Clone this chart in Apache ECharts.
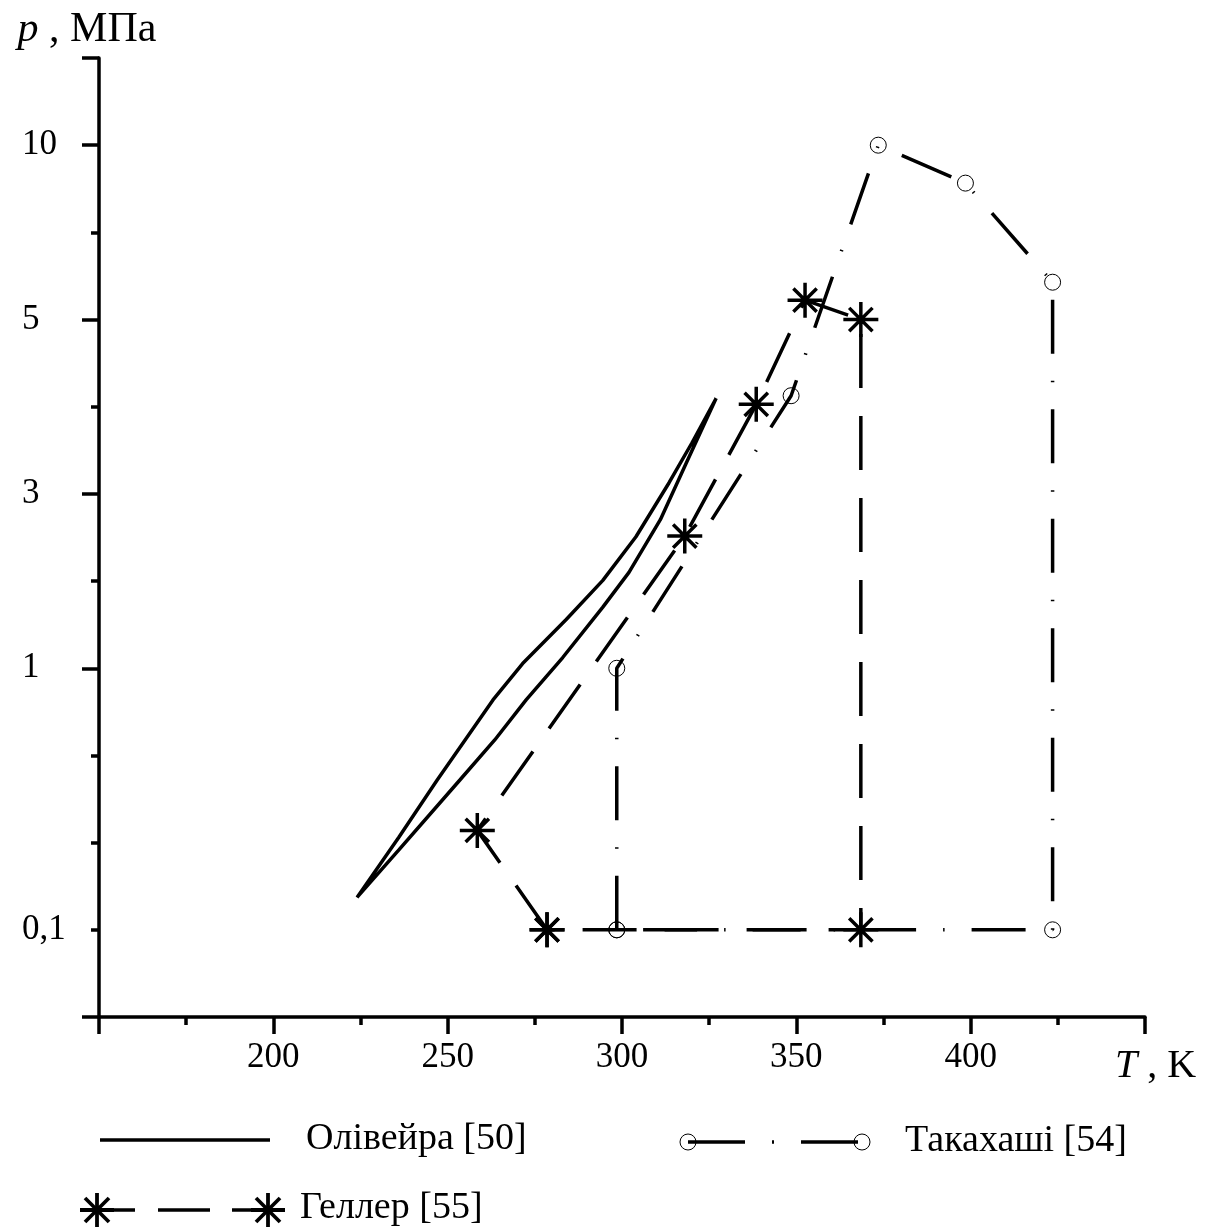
<!DOCTYPE html>
<html>
<head>
<meta charset="utf-8">
<script src="https://cdn.jsdelivr.net/npm/echarts@6/dist/echarts.min.js"></script>
<style>
  html, body { margin: 0; padding: 0; background: #fff; }
  #chart { width: 1216px; height: 1229px; }
</style>
</head>
<body>
<div id="chart"></div>
<script>
// Олівейра [50] - closed loop (upper branch up, lower branch down)
var olivTemp = [224, 236, 247, 256, 263, 271.5, 284, 294.5, 304, 313.5, 320, 327,
                326.5, 318.5, 311, 302, 294.5, 283, 272.5, 263.5, 253.5, 236, 224];
var olivPress = [0.133, 0.226, 0.374, 0.556, 0.757, 1.03, 1.36, 1.74, 2.29, 3.10, 3.48, 3.97,
                 3.97, 3.29, 2.55, 1.83, 1.47, 1.07, 0.757, 0.532, 0.374, 0.202, 0.133];
// Такахаші [54]
var takaTemp = [298.5, 298.5, 348.5, 373.5, 398.5, 423.5, 423.5, 298.5];
var takaPress = [0.1, 1, 4, 10, 8.6, 5.8, 0.1, 0.1];
// Геллер [55]
var gellTemp = [278.5, 258.5, 318, 338.5, 352.5, 368.5, 368.5, 278.5];
var gellPress = [0.1, 0.24, 2.3, 3.9, 5.4, 5, 0.1, 0.1];

// pressure axis: tick labels and their place on the (uneven) scale
var pTicks = [0.1, 1, 3, 5, 10];
var pTickLabels = ['0,1', '1', '3', '5', '10'];
var pTickPos = [1, 4, 6, 8, 10];
var xLabels = [200, 250, 300, 350, 400];

var FONT = 'Liberation Serif';
var LW = 3.5;

// map a pressure onto the axis position (log-interpolated between labelled ticks)
function pToU(p) {
    var i = 0;
    while (i < pTicks.length - 2 && p > pTicks[i + 1]) i++;
    var a = Math.log(pTicks[i]), b = Math.log(pTicks[i + 1]);
    return pTickPos[i] + (Math.log(p) - a) / (b - a) * (pTickPos[i + 1] - pTickPos[i]);
}
function pairs(t, p) {
    return t.map(function (v, i) { return [v, pToU(p[i])]; });
}

var starPath = 'path://M16.2,0H19.8V36H16.2Z M0,16.2H36V19.8H0Z' +
    ' M7.27,4.73L31.27,28.73L28.73,31.27L4.73,7.27Z' +
    ' M28.73,4.73L31.27,7.27L7.27,31.27L4.73,28.73Z';

// legend star drawn from plain lines
function legendStar(cx, cy) {
    var st = { stroke: '#000', lineWidth: 3.8 };
    return {
        type: 'group', children: [
            { type: 'line', shape: { x1: cx, y1: cy - 17, x2: cx, y2: cy + 17 }, style: st },
            { type: 'line', shape: { x1: cx - 17, y1: cy, x2: cx + 17, y2: cy }, style: st },
            { type: 'line', shape: { x1: cx - 12, y1: cy - 12, x2: cx + 12, y2: cy + 12 }, style: st },
            { type: 'line', shape: { x1: cx + 12, y1: cy - 12, x2: cx - 12, y2: cy + 12 }, style: st }
        ]
    };
}

var chart = echarts.init(document.getElementById('chart'));
var option = {
    animation: false,
    backgroundColor: '#fff',
    grid: { left: 99, right: 71, top: 58, bottom: 212, containLabel: false },
    xAxis: {
        type: 'value', min: 150, max: 450, interval: 50,
        name: '{i|T} , K',
        nameLocation: 'end', nameGap: -30,
        nameTextStyle: {
            fontFamily: FONT, fontSize: 40, color: '#000',
            verticalAlign: 'top', padding: [29, 0, 0, 0],
            rich: { i: { fontFamily: FONT, fontSize: 40, fontStyle: 'italic', color: '#000' } }
        },
        axisLine: { show: true, lineStyle: { color: '#000', width: LW } },
        axisTick: { show: true, length: 17, lineStyle: { color: '#000', width: LW } },
        minorTick: { show: true, splitNumber: 2, length: 8, lineStyle: { color: '#000', width: LW } },
        axisLabel: {
            customValues: xLabels,
            fontFamily: FONT, fontSize: 35, color: '#000', margin: 23
        },
        splitLine: { show: false }
    },
    yAxis: [{
        type: 'value', min: 0, max: 11, interval: 1, position: 'left',
        name: '{i|p} , МПа',
        nameLocation: 'end', nameGap: 7,
        nameTextStyle: {
            fontFamily: FONT, fontSize: 42, color: '#000', padding: [0, 24, 0, 0],
            rich: { i: { fontFamily: FONT, fontSize: 42, fontStyle: 'italic', color: '#000' } }
        },
        axisLine: { show: true, lineStyle: { color: '#000', width: LW } },
        axisTick: { show: true, customValues: [0, 4, 6, 8, 10, 11], length: 17,
                    lineStyle: { color: '#000', width: LW } },
        axisLabel: {
            customValues: pTickPos,
            formatter: function (v) {
                var k = pTickPos.indexOf(Math.round(v));
                return k >= 0 ? pTickLabels[k] : '';
            },
            align: 'left', margin: 77,
            fontFamily: FONT, fontSize: 35, color: '#000'
        },
        splitLine: { show: false }
    }, {
        type: 'value', min: 0, max: 11, interval: 1, position: 'left',
        axisLine: { show: false },
        axisTick: { show: true, customValues: [1, 2, 3, 5, 7, 9], length: 8,
                    lineStyle: { color: '#000', width: LW } },
        axisLabel: { show: false },
        splitLine: { show: false }
    }],
    series: [{
        name: 'Олівейра [50]',
        type: 'line',
        data: pairs(olivTemp, olivPress),
        symbol: 'none',
        lineStyle: { color: '#000', width: LW }
    }, {
        name: 'Такахаші [54]',
        type: 'line',
        data: pairs(takaTemp, takaPress),
        symbol: 'circle', symbolSize: 16,
        itemStyle: { color: 'rgba(0,0,0,0)', borderColor: '#000', borderWidth: 1 },
        lineStyle: { color: '#000', width: LW, type: [54, 27, 1.5, 27] },
        z: 3
    }, {
        name: 'Геллер [55]',
        type: 'line',
        data: pairs(gellTemp, gellPress),
        symbol: starPath, symbolSize: 35,
        itemStyle: { color: '#000' },
        lineStyle: { color: '#000', width: LW, type: [54, 28] },
        z: 4
    }],
    graphic: [
        // legend samples
        { type: 'line', shape: { x1: 100, y1: 1140, x2: 270, y2: 1140 }, style: { stroke: '#000', lineWidth: LW } },
        { type: 'text', x: 306, y: 1120, style: { text: 'Олівейра [50]', font: '38px "Liberation Serif"', fill: '#000' } },
        { type: 'line', shape: { x1: 688, y1: 1142, x2: 862, y2: 1142 },
          style: { stroke: '#000', lineWidth: LW, lineDash: [57, 27, 2, 27] } },
        { type: 'circle', shape: { cx: 688, cy: 1142, r: 8 }, style: { fill: 'none', stroke: '#000', lineWidth: 1 } },
        { type: 'circle', shape: { cx: 862, cy: 1142, r: 8 }, style: { fill: 'none', stroke: '#000', lineWidth: 1 } },
        { type: 'text', x: 905, y: 1122, style: { text: 'Такахаші [54]', font: '38px "Liberation Serif"', fill: '#000' } },
        { type: 'line', shape: { x1: 97, y1: 1210, x2: 268, y2: 1210 },
          style: { stroke: '#000', lineWidth: LW, lineDash: [38, 23, 52, 22, 40] } },
        legendStar(97, 1210),
        legendStar(268, 1210),
        { type: 'text', x: 300, y: 1189, style: { text: 'Геллер [55]', font: '38px "Liberation Serif"', fill: '#000' } }
    ]
};
chart.setOption(option);
</script>
</body>
</html>
